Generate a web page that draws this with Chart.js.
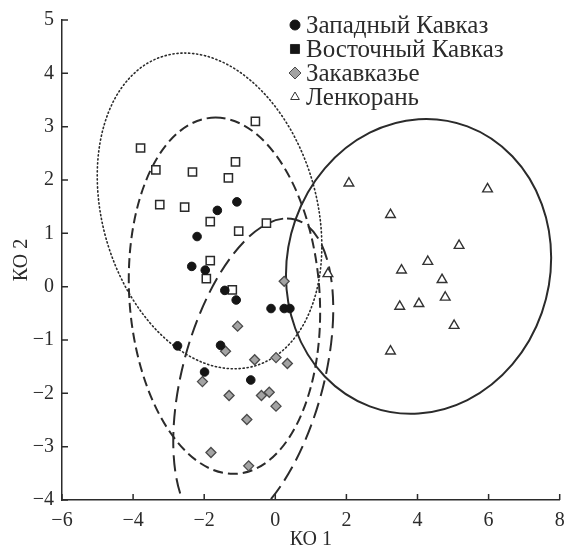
<!DOCTYPE html>
<html>
<head>
<meta charset="utf-8">
<script src="https://cdn.jsdelivr.net/npm/chart.js@4.4.1/dist/chart.umd.min.js"></script>
<style>
  html, body { margin: 0; padding: 0; background: #fff; }
  #wrap { width: 567px; height: 552px; }
</style>
</head>
<body>
<div id="wrap"><canvas id="chart" width="567" height="552"></canvas></div>
<script>
// группы (легенда)
const groupNames = ['Западный Кавказ', 'Восточный Кавказ', 'Закавказье', 'Ленкорань'];

// КО 1 / КО 2 по группам
const zapadX = [-1.08, -1.63, -2.20, -2.35, -1.97, -1.42, -1.10, -0.12, 0.25, 0.41, -2.75, -1.54, -1.99, -0.69];
const zapadY = [1.59, 1.43, 0.94, 0.38, 0.31, -0.07, -0.25, -0.41, -0.41, -0.41, -1.11, -1.10, -1.60, -1.75];

const vostokX = [-0.56, -3.79, -1.12, -3.36, -2.33, -1.32, -3.25, -2.55, -1.83, -0.25, -1.03, -1.83, -1.94, -1.21];
const vostokY = [3.10, 2.60, 2.34, 2.19, 2.15, 2.04, 1.54, 1.49, 1.22, 1.19, 1.04, 0.49, 0.15, -0.06];

const zakavX = [0.25, -1.06, -1.40, -0.58, 0.02, 0.34, -2.05, -1.30, -0.39, -0.17, 0.02, -0.80, -1.81, -0.75];
const zakavY = [0.10, -0.74, -1.21, -1.37, -1.33, -1.44, -1.78, -2.04, -2.04, -1.98, -2.24, -2.49, -3.11, -3.36];

const lenkX = [2.07, 5.97, 3.24, 5.17, 4.29, 3.55, 4.69, 1.48, 4.78, 3.50, 4.04, 5.03, 3.24];
const lenkY = [1.94, 1.83, 1.35, 0.77, 0.47, 0.31, 0.13, 0.24, -0.20, -0.37, -0.32, -0.73, -1.21];

// эллипсы: центр и две сопряжённые полуоси (в единицах КО)
const ellipseCenters = [[-1.43, -0.17], [-1.85, 1.42], [-0.62, -1.66], [4.03, 0.38]];
const ellipseAxisA   = [[-0.25, 3.34], [-0.70, 2.96], [0.95, 2.94], [0, 2.76]];
const ellipseAxisB   = [[2.68, 0], [3.08, 0], [2.04, 0], [3.73, 0.16]];

const xTickValues = [-6, -4, -2, 0, 2, 4, 6, 8];
const yTickValues = [-4, -3, -2, -1, 0, 1, 2, 3, 4, 5];

const ink = '#2b2b2b';
const serif = '"Liberation Serif", "DejaVu Serif", serif';
const ellipseDash = [[10, 5], [1.2, 2.8], [16, 7], []];

const toPoints = (xs, ys) => xs.map((v, i) => ({ x: v, y: ys[i] }));
const minus = v => String(v).replace('-', '\u2212');

const ellipses = {
  id: 'ellipses',
  beforeDatasetsDraw(chart) {
    const { ctx, chartArea: a, scales: { x, y } } = chart;
    ctx.save();
    ctx.beginPath();
    ctx.rect(a.left, a.top, a.right - a.left, a.bottom - a.top);
    ctx.clip();
    ellipseCenters.forEach((c, i) => {
      const cx = x.getPixelForValue(c[0]), cy = y.getPixelForValue(c[1]);
      const A = ellipseAxisA[i], B = ellipseAxisB[i];
      const ax = x.getPixelForValue(c[0] + A[0]) - cx, ay = y.getPixelForValue(c[1] + A[1]) - cy;
      const bx = x.getPixelForValue(c[0] + B[0]) - cx, by = y.getPixelForValue(c[1] + B[1]) - cy;
      ctx.save();
      ctx.transform(ax, ay, bx, by, cx, cy);
      ctx.beginPath();
      ctx.arc(0, 0, 1, 0, Math.PI * 2);
      ctx.restore();
      ctx.setLineDash(ellipseDash[i]);
      ctx.lineWidth = i === 1 ? 1.6 : 2;
      ctx.lineCap = i === 1 ? 'round' : 'butt';
      ctx.strokeStyle = ink;
      ctx.stroke();
    });
    ctx.restore();
  }
};

// засечки внутрь, как в книге
const inwardTicks = {
  id: 'inwardTicks',
  afterDraw(chart) {
    const { ctx, chartArea: a, scales: { x, y } } = chart;
    ctx.save();
    ctx.strokeStyle = ink;
    ctx.lineWidth = 1.5;
    ctx.beginPath();
    x.ticks.forEach(t => {
      const px = x.getPixelForValue(t.value);
      ctx.moveTo(px, a.bottom);
      ctx.lineTo(px, a.bottom - 6);
    });
    y.ticks.forEach(t => {
      const py = y.getPixelForValue(t.value);
      ctx.moveTo(a.left, py);
      ctx.lineTo(a.left + 6, py);
    });
    ctx.stroke();
    ctx.restore();
  }
};

const cornerLegend = {
  id: 'cornerLegend',
  afterDraw(chart) {
    const ctx = chart.ctx;
    ctx.save();
    ctx.font = '25px ' + serif;
    ctx.textBaseline = 'middle';
    chart.data.datasets.forEach((ds, i) => {
      const yy = 25 + i * 24;
      ctx.fillStyle = ds.legendFill;
      ctx.strokeStyle = ds.borderColor;
      ctx.lineWidth = 1;
      Chart.helpers.drawPoint(ctx, { pointStyle: ds.pointStyle, radius: ds.legendRadius, borderWidth: 1 }, 295, yy);
      ctx.fillStyle = ink;
      ctx.fillText(ds.label, 306, yy + 1);
    });
    ctx.restore();
  }
};

new Chart(document.getElementById('chart'), {
  type: 'scatter',
  data: {
    datasets: [
      {
        label: groupNames[0], data: toPoints(zapadX, zapadY),
        pointStyle: 'circle', pointRadius: 4.3, backgroundColor: '#151515', borderColor: '#151515', borderWidth: 1,
        legendFill: '#151515', legendRadius: 5
      },
      {
        label: groupNames[1], data: toPoints(vostokX, vostokY),
        pointStyle: 'rect', pointRadius: 5.8, backgroundColor: '#fff', borderColor: '#2a2a2a', borderWidth: 1.5,
        legendFill: '#151515', legendRadius: 6.4
      },
      {
        label: groupNames[2], data: toPoints(zakavX, zakavY),
        pointStyle: 'rectRot', pointRadius: 5, backgroundColor: '#a3a3a3', borderColor: '#4a4a4a', borderWidth: 1.3,
        legendFill: '#a3a3a3', legendRadius: 6
      },
      {
        label: groupNames[3], data: toPoints(lenkX, lenkY),
        pointStyle: 'triangle', pointRadius: 5.6, backgroundColor: '#fff', borderColor: '#333', borderWidth: 1.4,
        legendFill: '#fff', legendRadius: 5
      }
    ]
  },
  options: {
    responsive: false,
    animation: false,
    layout: { padding: { top: 20, right: 5, bottom: 0, left: 0 } },
    plugins: { legend: { display: false }, tooltip: { enabled: false } },
    scales: {
      x: {
        type: 'linear', min: -6, max: 8,
        afterBuildTicks: s => { s.ticks = xTickValues.map(v => ({ value: v })); },
        afterFit: s => { s.height = 52; s.paddingLeft = 0; s.paddingRight = 0; },
        grid: { display: false, drawTicks: false },
        border: { display: true, color: ink, width: 1.5 },
        ticks: { color: ink, padding: 9, maxRotation: 0, font: { family: serif, size: 20 }, callback: v => minus(v) },
        title: { display: true, text: 'КО 1', color: ink, font: { family: serif, size: 20, lineHeight: 1 }, padding: { top: 0, bottom: 2 } }
      },
      y: {
        type: 'linear', min: -4, max: 5,
        afterBuildTicks: s => { s.ticks = yTickValues.map(v => ({ value: v })); },
        afterFit: s => { s.width = 62; s.paddingTop = 0; s.paddingBottom = 0; },
        grid: { display: false, drawTicks: false },
        border: { display: true, color: ink, width: 1.5 },
        ticks: { color: ink, padding: 8, font: { family: serif, size: 20 }, callback: v => minus(v) },
        title: { display: true, text: 'КО 2', color: ink, font: { family: serif, size: 20, lineHeight: 1 }, padding: { top: 12, bottom: 0 } }
      }
    }
  },
  plugins: [ellipses, inwardTicks, cornerLegend]
});
</script>
</body>
</html>
